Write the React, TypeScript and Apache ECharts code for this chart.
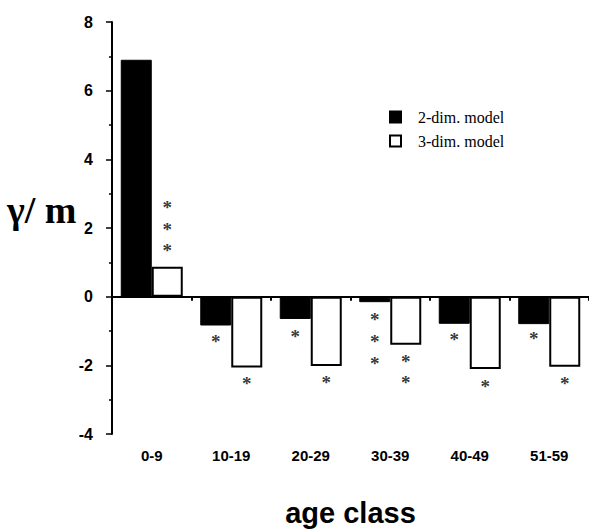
import React, { useEffect, useRef } from "react";
import * as echarts from "echarts";

const categories = ["0-9", "10-19", "20-29", "30-39", "40-49", "51-59"];
const model2D = [6.9, -0.84, -0.65, -0.16, -0.79, -0.8];
const model3D = [0.87, -2.06, -2.02, -1.4, -2.11, -2.04];
// significance asterisks: [category index, y position]
const stars2D: [number, number][] = [
  [1, -1.15], [2, -1.0], [3, -0.52], [3, -1.15], [3, -1.8], [4, -1.11], [5, -1.06],
];
const stars3D: [number, number][] = [
  [0, 2.75], [0, 2.09], [0, 1.48], [1, -2.39], [2, -2.35], [3, -1.75], [3, -2.35], [4, -2.47], [5, -2.38],
];
const yMin = -4;
const yMax = 8;
const yStep = 2;

export default function App() {
  const ref = useRef<HTMLDivElement>(null);
  useEffect(() => {
    if (!ref.current) return;
    const chart = echarts.init(ref.current, null, { renderer: "svg" });
    const starLabel = (dx: number) => ({
      show: true,
      position: "inside",
      formatter: "*",
      offset: [dx, 5],
      color: "#000000",
      textBorderWidth: 0,
      fontFamily: "Liberation Serif",
      fontWeight: "bold",
      fontSize: 19,
    });
    chart.setOption({
      animation: false,
      backgroundColor: "#fff",
      grid: { left: 112, top: 22, width: 479, height: 416 },
      legend: {
        data: ["2-dim. model", "3-dim. model"],
        orient: "vertical",
        left: 389,
        top: 109,
        padding: 0,
        itemWidth: 11,
        itemHeight: 11,
        itemGap: 8,
        icon: "rect",
        textStyle: {
          fontFamily: "Liberation Serif",
          fontSize: 16,
          color: "#000",
          padding: [0, 0, 0, 12],
        },
      },
      xAxis: {
        type: "category",
        data: categories,
        axisLine: { lineStyle: { color: "#000", width: 2 } },
        axisTick: { show: true, length: 4, lineStyle: { color: "#000", width: 2 } },
        axisLabel: {
          color: "#000",
          fontFamily: "Liberation Sans",
          fontWeight: "bold",
          fontSize: 15,
          margin: 14,
        },
        name: "age class",
        nameLocation: "middle",
        nameGap: 64,
        nameTextStyle: {
          color: "#000",
          fontFamily: "Liberation Sans",
          fontWeight: "bold",
          fontSize: 29,
        },
      },
      yAxis: {
        type: "value",
        min: yMin,
        max: yMax,
        interval: yStep,
        axisLine: { show: true, lineStyle: { color: "#000", width: 2 } },
        axisTick: { show: true, length: 6, lineStyle: { color: "#000", width: 1.5 } },
        minorTick: { show: true, splitNumber: 2, length: 3, lineStyle: { color: "#000", width: 1.5 } },
        splitLine: { show: false },
        axisLabel: {
          color: "#000",
          fontFamily: "Liberation Sans",
          fontWeight: "bold",
          fontSize: 16,
          margin: 19,
        },
      },
      series: [
        {
          name: "2-dim. model",
          type: "bar",
          data: model2D,
          barWidth: 31,
          barGap: "0%",
          itemStyle: { color: "#000", borderColor: "#000", borderWidth: 1 },
          markLine: {
            silent: true,
            symbol: "none",
            label: { show: false },
            lineStyle: { color: "#000", width: 1.5, type: "solid" },
            data: [{ yAxis: 0 }],
          },
        },
        {
          name: "3-dim. model",
          type: "bar",
          data: model3D,
          barWidth: 31,
          barGap: "0%",
          itemStyle: { color: "#fff", borderColor: "#000", borderWidth: 2 },
        },
        {
          name: "stars2",
          type: "scatter",
          data: stars2D,
          symbolSize: 0.1,
          itemStyle: { color: "#000" },
          label: starLabel(-15.5),
          silent: true,
        },
        {
          name: "stars3",
          type: "scatter",
          data: stars3D,
          symbolSize: 0.1,
          itemStyle: { color: "#000" },
          label: starLabel(15.5),
          silent: true,
        },
      ],
      graphic: [
        {
          type: "text",
          left: 7,
          top: 191,
          style: {
            text: "γ/ m",
            fontFamily: "Liberation Serif",
            fontWeight: "bold",
            fontSize: 38,
            fill: "#000",
          },
        },
      ],
    });
    return () => chart.dispose();
  }, []);
  return <div ref={ref} style={{ width: 589, height: 532, position: "absolute", left: 0, top: 0 }} />;
}
